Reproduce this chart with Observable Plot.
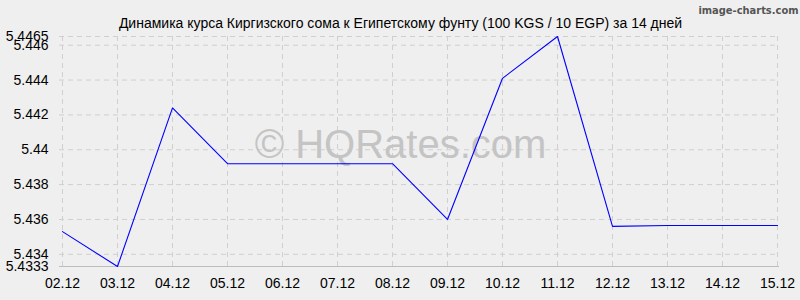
<!DOCTYPE html>
<html>
<head>
<meta charset="utf-8">
<script src="https://cdn.jsdelivr.net/npm/d3@7"></script>
<script src="https://cdn.jsdelivr.net/npm/@observablehq/plot@0.6"></script>
<style>
  html, body { margin: 0; padding: 0; background: #efefef; }
  #chart svg { display: block; }
</style>
</head>
<body>
<div id="chart"></div>
<script>
const dates = ["02.12","03.12","04.12","05.12","06.12","07.12","08.12","09.12","10.12","11.12","12.12","13.12","14.12","15.12"];
const rates = [5.4353, 5.4333, 5.4424, 5.4392, 5.4392, 5.4392, 5.4392, 5.4360, 5.4441, 5.4465, 5.4356, 5.43565, 5.43565, 5.43565];
const yTicks = [5.4333, 5.434, 5.436, 5.438, 5.44, 5.442, 5.444, 5.446, 5.4465];
const title = "Динамика курса Киргизского сома к Египетскому фунту (100 KGS / 10 EGP) за 14 дней";
const watermark = "© HQRates.com";
const credit = "image-charts.com";

const data = dates.map((d, i) => ({date: d, rate: rates[i]}));
const gridY = yTicks.filter(v => v !== yTicks[0]);

const chart = Plot.plot({
  width: 800,
  height: 300,
  marginLeft: 59,
  marginRight: 21,
  marginTop: 36,
  marginBottom: 34,
  style: {background: "#efefef", fontFamily: "Liberation Sans, Arial, sans-serif", fontSize: "14px", color: "#000"},
  x: {type: "point", domain: dates, padding: 0, label: null},
  y: {domain: [yTicks[0], yTicks[yTicks.length - 1]], label: null},
  marks: [
    Plot.ruleX(dates, {stroke: "#cfcfcf", strokeDasharray: "5,4", strokeOpacity: 1}),
    Plot.ruleY(gridY, {stroke: "#cfcfcf", strokeDasharray: "5,4", strokeOpacity: 1}),
    Plot.ruleY([yTicks[0]], {stroke: "#bdbdbd"}),
    Plot.text([watermark], {frameAnchor: "middle", dx: -19, dy: -6, fontSize: 40, fill: "#c4c4c4", fontFamily: "Liberation Sans, Arial, sans-serif"}),
    Plot.line(data, {x: "date", y: "rate", stroke: "#0000ff", strokeWidth: 1.1}),
    Plot.axisX({ticks: dates, tickSize: 0, tickPadding: 12, fontSize: 14, fill: "#000"}),
    Plot.axisY({ticks: yTicks, tickSize: 0, tickPadding: 11, fontSize: 14, fill: "#000", tickFormat: d => String(d)}),
    Plot.text([title], {frameAnchor: "top", dx: -19, dy: -18, fontSize: 14, fill: "#000", fontFamily: "Liberation Sans, Arial, sans-serif"}),
    Plot.text([credit], {frameAnchor: "top-right", dx: 19, dy: -30, fontSize: 11, fontWeight: "bold", fill: "#555", fontFamily: "DejaVu Sans Condensed, DejaVu Sans, sans-serif"})
  ]
});
document.getElementById("chart").appendChild(chart);
</script>
</body>
</html>
